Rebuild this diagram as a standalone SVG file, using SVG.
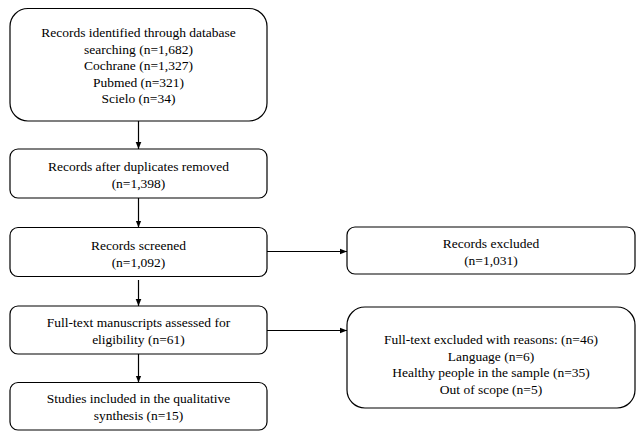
<svg xmlns="http://www.w3.org/2000/svg" width="644" height="433" viewBox="0 0 644 433">
<defs>
<marker id="ah" viewBox="0 0 10 10" refX="10" refY="5" markerWidth="7" markerHeight="7" markerUnits="userSpaceOnUse" orient="auto">
<path d="M0,1 L10,5 L0,9 z" fill="#000"/>
</marker>
<style>
.box{fill:#fff;stroke:#000;stroke-width:1.2}
.t{font-size:13.5px;fill:#000;text-anchor:middle}
.c{stroke:#000;stroke-width:1.2;fill:none;marker-end:url(#ah)}
</style>
</defs>
<rect width="644" height="433" fill="#fff"/>
<g font-family="Liberation Serif, DejaVu Serif, serif">
<g id="n1">
<rect class="box" x="10" y="8.5" width="257" height="112.5" rx="18"/>
<text class="t" x="138.5" y="37">Records identified through database</text>
<text class="t" x="138.5" y="53.5">searching (n=1,682)</text>
<text class="t" x="138.5" y="70">Cochrane (n=1,327)</text>
<text class="t" x="138.5" y="86.5">Pubmed (n=321)</text>
<text class="t" x="138.5" y="103">Scielo (n=34)</text>
</g>
<g id="n2">
<rect class="box" x="10" y="149" width="257" height="49" rx="8"/>
<text class="t" x="138.5" y="171">Records after duplicates removed</text>
<text class="t" x="138.5" y="188">(n=1,398)</text>
</g>
<g id="n3">
<rect class="box" x="10" y="227.5" width="257" height="49" rx="8"/>
<text class="t" x="138.5" y="249.5">Records screened</text>
<text class="t" x="138.5" y="266.5">(n=1,092)</text>
</g>
<g id="n4">
<rect class="box" x="10" y="306" width="257" height="48" rx="8"/>
<text class="t" x="138.5" y="327">Full-text manuscripts assessed for</text>
<text class="t" x="138.5" y="344">eligibility (n=61)</text>
</g>
<g id="n5">
<rect class="box" x="10" y="382.5" width="257" height="47.5" rx="8"/>
<text class="t" x="138.5" y="403">Studies included in the qualitative</text>
<text class="t" x="138.5" y="420">synthesis (n=15)</text>
</g>
<g id="n6">
<rect class="box" x="347" y="227" width="288" height="47" rx="8"/>
<text class="t" x="491" y="248">Records excluded</text>
<text class="t" x="491" y="265">(n=1,031)</text>
</g>
<g id="n7">
<rect class="box" x="347" y="307" width="288" height="101" rx="18"/>
<text class="t" x="491" y="344">Full-text excluded with reasons: (n=46)</text>
<text class="t" x="491" y="360.5">Language (n=6)</text>
<text class="t" x="491" y="377">Healthy people in the sample (n=35)</text>
<text class="t" x="491" y="393.5">Out of scope (n=5)</text>
</g>
</g>
<g id="connectors">
<line class="c" x1="138.5" y1="121" x2="138.5" y2="149"/>
<line class="c" x1="138.5" y1="198" x2="138.5" y2="227.5"/>
<line class="c" x1="138.5" y1="280" x2="138.5" y2="306"/>
<line class="c" x1="138.5" y1="354" x2="138.5" y2="382.5"/>
<line class="c" x1="267" y1="251.5" x2="347" y2="251.5"/>
<line class="c" x1="267" y1="330.5" x2="347" y2="330.5"/>
</g>
</svg>
